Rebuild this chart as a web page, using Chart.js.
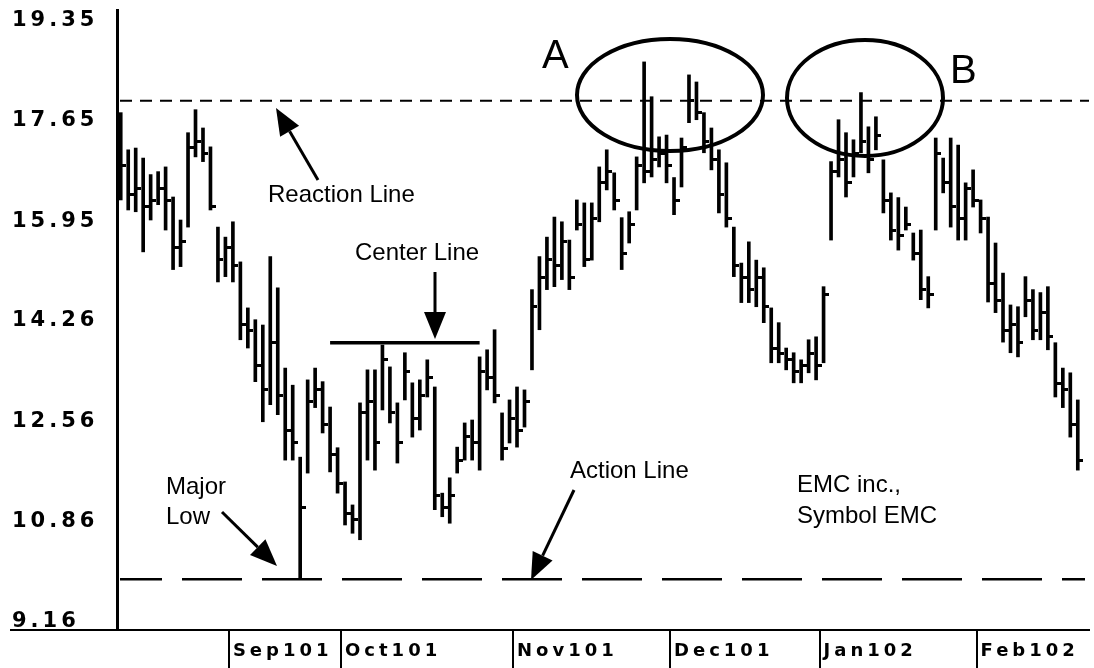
<!DOCTYPE html>
<html>
<head>
<meta charset="utf-8">
<title>EMC daily bars</title>
<script src="https://cdn.jsdelivr.net/npm/chart.js@4.4.1/dist/chart.umd.min.js"></script>
<style>
  html, body { margin: 0; padding: 0; background: #fff; }
  #wrap { width: 1094px; height: 668px; position: relative; }
</style>
</head>
<body>
<div id="wrap"><canvas id="emcChart"></canvas></div>
<script>
// Trading sessions, Aug 2001 - Feb 2002 (last slot left empty)
const tradingDays = [
  '2001-08-13','2001-08-14','2001-08-15','2001-08-16','2001-08-17','2001-08-20','2001-08-21','2001-08-22',
  '2001-08-23','2001-08-24','2001-08-27','2001-08-28','2001-08-29','2001-08-30','2001-08-31',
  '2001-09-04','2001-09-05','2001-09-06','2001-09-07','2001-09-10','2001-09-17','2001-09-18','2001-09-19',
  '2001-09-20','2001-09-21','2001-09-24','2001-09-25','2001-09-26','2001-09-27','2001-09-28',
  '2001-10-01','2001-10-02','2001-10-03','2001-10-04','2001-10-05','2001-10-08','2001-10-09','2001-10-10',
  '2001-10-11','2001-10-12','2001-10-15','2001-10-16','2001-10-17','2001-10-18','2001-10-19','2001-10-22',
  '2001-10-23','2001-10-24','2001-10-25','2001-10-26','2001-10-29','2001-10-30','2001-10-31',
  '2001-11-01','2001-11-02','2001-11-05','2001-11-06','2001-11-07','2001-11-08','2001-11-09','2001-11-12',
  '2001-11-13','2001-11-14','2001-11-15','2001-11-16','2001-11-19','2001-11-20','2001-11-21','2001-11-23',
  '2001-11-26','2001-11-27','2001-11-28','2001-11-29','2001-11-30',
  '2001-12-03','2001-12-04','2001-12-05','2001-12-06','2001-12-07','2001-12-10','2001-12-11','2001-12-12',
  '2001-12-13','2001-12-14','2001-12-17','2001-12-18','2001-12-19','2001-12-20','2001-12-21','2001-12-24',
  '2001-12-26','2001-12-27','2001-12-28','2001-12-31',
  '2002-01-02','2002-01-03','2002-01-04','2002-01-07','2002-01-08','2002-01-09','2002-01-10','2002-01-11',
  '2002-01-14','2002-01-15','2002-01-16','2002-01-17','2002-01-18','2002-01-22','2002-01-23','2002-01-24',
  '2002-01-25','2002-01-28','2002-01-29','2002-01-30','2002-01-31',
  '2002-02-01','2002-02-04','2002-02-05','2002-02-06','2002-02-07','2002-02-08','2002-02-11','2002-02-12',
  '2002-02-13','2002-02-14','2002-02-15','2002-02-19','2002-02-20','2002-02-21','2002-02-22'
];

const highs = [
  17.79, 17.16, 17.19, 17.02, 16.74, 16.79, 16.87, 16.36, 15.97, 17.45,
  17.84, 17.53, 17.21, 15.85, 15.68, 15.94, 15.26, 14.48, 14.28, 14.19,
  15.35, 14.82, 13.46, 13.17, 11.95, 13.26, 13.46, 13.23, 12.80, 12.11,
  11.53, 11.14, 12.87, 13.43, 13.43, 13.85, 13.48, 12.87, 13.72, 13.21,
  13.26, 13.60, 13.14, 11.34, 11.60, 12.12, 12.53, 12.58, 13.65, 13.77,
  14.11, 12.70, 12.92, 13.14, 13.09, 14.79, 15.35, 15.68, 16.02, 15.94,
  15.63, 16.31, 16.26, 16.26, 16.87, 17.16, 16.77, 16.01, 16.11, 17.04,
  18.65, 18.06, 17.38, 17.41, 16.69, 17.36, 18.43, 18.31, 17.79, 17.53,
  17.16, 16.94, 15.85, 15.24, 15.60, 15.29, 15.16, 14.48, 14.23, 13.80,
  13.72, 13.60, 13.94, 13.99, 14.84, 16.96, 17.67, 17.45, 17.33, 18.13,
  17.55, 17.72, 16.99, 16.43, 16.35, 16.19, 15.75, 15.80, 15.01, 17.36,
  17.02, 17.36, 17.24, 16.60, 16.82, 16.31, 16.02, 15.58, 15.07, 14.53,
  14.50, 15.01, 14.79, 14.74, 14.84, 13.89, 13.46, 13.38, 12.92
];

const lows = [
  16.31, 16.14, 16.11, 15.43, 15.97, 16.23, 15.80, 15.13, 15.18, 15.85,
  17.04, 16.96, 16.14, 14.92, 15.01, 14.92, 13.94, 13.80, 13.23, 12.55,
  12.84, 12.67, 11.90, 11.90, 9.90, 11.68, 12.79, 12.36, 11.70, 11.34,
  10.80, 10.66, 10.55, 11.90, 11.73, 12.75, 12.53, 11.85, 12.92, 12.29,
  12.41, 12.97, 11.06, 10.94, 10.83, 11.68, 11.90, 11.90, 11.73, 13.09,
  12.87, 11.90, 12.19, 12.12, 12.46, 13.43, 14.11, 14.79, 14.84, 14.96,
  14.79, 15.80, 15.18, 15.29, 15.94, 16.48, 16.14, 15.13, 15.58, 16.14,
  16.60, 16.70, 16.87, 16.60, 16.06, 16.53, 17.62, 17.67, 17.11, 16.82,
  16.09, 15.85, 15.01, 14.57, 14.57, 14.50, 14.23, 13.55, 13.55, 13.43,
  13.21, 13.21, 13.38, 13.26, 13.55, 15.63, 16.70, 16.36, 16.70, 17.11,
  16.77, 17.16, 16.09, 15.63, 15.46, 15.80, 15.29, 14.62, 14.48, 15.80,
  16.43, 15.85, 15.63, 15.63, 16.19, 15.75, 14.58, 14.40, 13.90, 13.72,
  13.65, 14.33, 13.94, 13.94, 13.77, 12.97, 12.79, 12.29, 11.73
];

const closes = [
  16.9, 16.4, 16.5, 16.2, 16.3, 16.5, 16.3, 15.5, 15.6, 17.2,
  17.3, 17.1, 16.2, 15.3, 15.5, 15.2, 14.2, 14.1, 13.5, 13.1,
  13.9, 13.0, 12.4, 12.2, 11.1, 12.9, 13.1, 12.5, 12.0, 11.5,
  11.0, 10.9, 12.7, 12.9, 12.2, 13.6, 12.7, 12.2, 13.4, 12.6,
  13.0, 13.3, 11.3, 11.1, 11.3, 11.9, 12.3, 12.2, 13.4, 13.3,
  13.0, 12.1, 12.6, 12.4, 12.9, 14.5, 15.0, 15.3, 15.2, 15.6,
  15.0, 15.9, 15.3, 16.0, 16.6, 16.8, 16.3, 15.4, 15.9, 16.9,
  16.8, 17.0, 17.1, 16.9, 16.3, 17.2, 18.0, 17.8, 17.3, 17.0,
  16.4, 16.0, 15.2, 15.0, 14.8, 15.0, 14.5, 13.8, 13.7, 13.6,
  13.4, 13.5, 13.7, 13.5, 14.7, 16.8, 17.0, 16.6, 17.1, 17.3,
  17.0, 17.4, 16.3, 15.8, 15.7, 15.9, 15.4, 14.8, 14.7, 17.1,
  16.6, 16.2, 16.0, 16.5, 16.3, 16.0, 14.9, 14.6, 14.1, 14.2,
  13.9, 14.6, 14.1, 14.4, 14.0, 13.2, 13.1, 12.5, 11.9
];

const priceTicks = [9.16, 10.86, 12.56, 14.26, 15.95, 17.65, 19.35];
const monthKeys = ['2001-09', '2001-10', '2001-11', '2001-12', '2002-01', '2002-02'];
const monthLabels = ['Sep101', 'Oct101', 'Nov101', 'Dec101', 'Jan102', 'Feb102'];

const reactionLevel = 17.99;
const actionLevel = 9.88;
const centerLevel = 13.89;
const centerSpan = ['2001-09-27', '2001-10-25'];

// label only the first session of each month
function monthLabelAt(i) {
  if (i === undefined || i <= 0 || i >= tradingDays.length) return '';
  const m = tradingDays[i].slice(0, 7);
  if (m === tradingDays[i - 1].slice(0, 7)) return '';
  const j = monthKeys.indexOf(m);
  return j < 0 ? '' : monthLabels[j];
}

// small right-hand tick for the close
function closeTick() {
  const c = document.createElement('canvas');
  c.width = 11;
  c.height = 3;
  const g = c.getContext('2d');
  g.fillStyle = '#000';
  g.fillRect(6, 0, 5, 3);
  return c;
}

function arrow(ctx, x1, y1, x2, y2) {
  const a = Math.atan2(y2 - y1, x2 - x1);
  const len = 27, half = 11;
  const bx = x2 - len * Math.cos(a), by = y2 - len * Math.sin(a);
  ctx.beginPath();
  ctx.moveTo(x1, y1);
  ctx.lineTo(bx, by);
  ctx.stroke();
  ctx.beginPath();
  ctx.moveTo(x2, y2);
  ctx.lineTo(bx + half * Math.sin(a), by - half * Math.cos(a));
  ctx.lineTo(bx - half * Math.sin(a), by + half * Math.cos(a));
  ctx.closePath();
  ctx.fill();
}

// the axis labels use a wide, spaced-out face
const spacedLabels = {
  id: 'spacedLabels',
  beforeDraw(chart) { chart.ctx.letterSpacing = '4px'; },
  beforeDatasetsDraw(chart) { chart.ctx.letterSpacing = '0px'; }
};

// reaction, action and center lines
const guideLines = {
  id: 'guideLines',
  beforeDatasetsDraw(chart) {
    const { ctx, chartArea, scales: { x, y } } = chart;
    ctx.save();
    ctx.strokeStyle = '#000';

    ctx.lineWidth = 2;
    ctx.setLineDash([12, 8]);
    let py = y.getPixelForValue(reactionLevel);
    ctx.beginPath();
    ctx.moveTo(chartArea.left + 3, py);
    ctx.lineTo(chartArea.right, py);
    ctx.stroke();

    ctx.lineWidth = 2.5;
    ctx.setLineDash([60, 20]);
    ctx.lineDashOffset = 18;
    py = y.getPixelForValue(actionLevel);
    ctx.beginPath();
    ctx.moveTo(chartArea.left + 3, py);
    ctx.lineTo(chartArea.right - 4, py);
    ctx.stroke();

    ctx.setLineDash([]);
    ctx.lineWidth = 3.5;
    py = y.getPixelForValue(centerLevel);
    ctx.beginPath();
    ctx.moveTo(x.getPixelForValue(tradingDays.indexOf(centerSpan[0])), py);
    ctx.lineTo(x.getPixelForValue(tradingDays.indexOf(centerSpan[1])), py);
    ctx.stroke();
    ctx.restore();
  }
};

// notes, arrows and the two circled tops
const notes = {
  id: 'notes',
  afterDraw(chart) {
    const { ctx, chartArea } = chart;
    ctx.save();
    ctx.letterSpacing = '0px';
    ctx.strokeStyle = '#000';
    ctx.fillStyle = '#000';

    // x axis line runs out under the price labels
    ctx.lineWidth = 2;
    ctx.beginPath();
    ctx.moveTo(10, chartArea.bottom);
    ctx.lineTo(chartArea.left, chartArea.bottom);
    ctx.stroke();

    ctx.lineWidth = 4;
    ctx.beginPath();
    ctx.ellipse(670, 95, 93, 56, 0, 0, Math.PI * 2);
    ctx.stroke();
    ctx.beginPath();
    ctx.ellipse(865, 98, 78, 58, 0, 0, Math.PI * 2);
    ctx.stroke();

    ctx.font = '40px "Liberation Sans", Arial, sans-serif';
    ctx.textBaseline = 'alphabetic';
    ctx.fillText('A', 542, 68);
    ctx.fillText('B', 950, 83);

    ctx.font = '24px "Liberation Sans", Arial, sans-serif';
    ctx.fillText('Reaction Line', 268, 202);
    ctx.fillText('Center Line', 355, 260);
    ctx.fillText('Major', 166, 494);
    ctx.fillText('Low', 166, 524);
    ctx.fillText('Action Line', 570, 478);
    ctx.fillText('EMC inc.,', 797, 492);
    ctx.fillText('Symbol EMC', 797, 523);

    ctx.lineWidth = 3;
    arrow(ctx, 318, 180, 276, 108);
    arrow(ctx, 435, 272, 435, 339);
    arrow(ctx, 222, 512, 277, 566);
    arrow(ctx, 574, 490, 531, 580);
    ctx.restore();
  }
};

const axisFont = { family: '"DejaVu Sans", sans-serif', weight: 'bold' };

new Chart(document.getElementById('emcChart'), {
  type: 'bar',
  data: {
    labels: tradingDays,
    datasets: [
      {
        label: 'High-Low',
        data: lows.map((lo, i) => [lo, highs[i]]),
        backgroundColor: '#000',
        borderWidth: 0,
        barThickness: 3
      },
      {
        type: 'line',
        label: 'Close',
        data: closes,
        showLine: false,
        pointStyle: closeTick(),
        pointRadius: 3,
        order: -1
      }
    ]
  },
  options: {
    responsive: true,
    maintainAspectRatio: false,
    animation: false,
    layout: { padding: { left: 12, top: 10, right: 2, bottom: 0 } },
    plugins: {
      legend: { display: false },
      tooltip: { enabled: false }
    },
    scales: {
      x: {
        type: 'category',
        offset: true,
        afterFit: (scale) => { scale.height = 38; },
        border: { display: true, color: '#000', width: 2 },
        grid: {
          offset: true,
          drawOnChartArea: false,
          drawTicks: true,
          tickLength: 38,
          lineWidth: 2,
          color: (c) => (monthLabelAt(c.index) ? '#000' : 'rgba(0,0,0,0)')
        },
        ticks: {
          autoSkip: false,
          maxRotation: 0,
          minRotation: 0,
          align: 'start',
          padding: -27,
          color: '#000',
          font: Object.assign({ size: 18 }, axisFont),
          callback: (v, i) => monthLabelAt(i)
        }
      },
      y: {
        type: 'linear',
        min: 9.02,
        max: 19.53,
        afterFit: (scale) => {
          scale.width = 105;
          scale.paddingTop = 0;
          scale.paddingBottom = 0;
        },
        afterBuildTicks: (scale) => { scale.ticks = priceTicks.map(v => ({ value: v })); },
        border: { display: true, color: '#000', width: 3 },
        grid: { display: false },
        ticks: {
          crossAlign: 'far',
          color: '#000',
          font: Object.assign({ size: 21 }, axisFont),
          callback: (v) => v.toFixed(2)
        }
      }
    }
  },
  plugins: [spacedLabels, guideLines, notes]
});
</script>
</body>
</html>
